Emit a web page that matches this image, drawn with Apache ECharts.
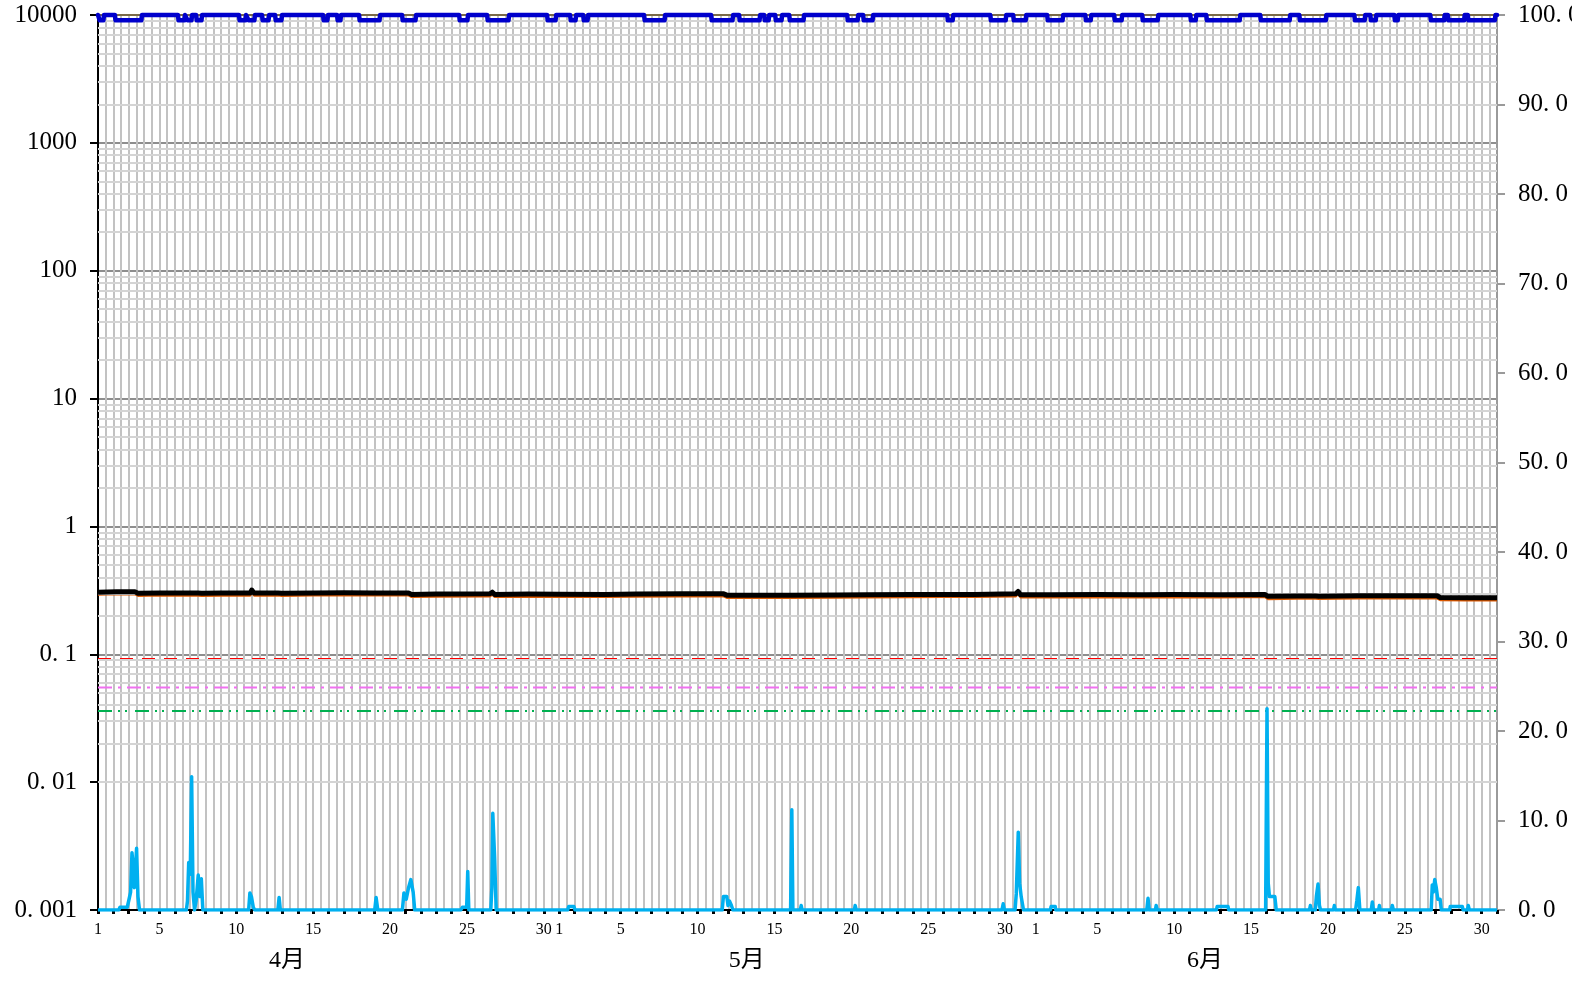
<!DOCTYPE html>
<html><head><meta charset="utf-8">
<script src="https://cdn.jsdelivr.net/npm/echarts@6/dist/echarts.min.js"></script>
<style>html,body{margin:0;padding:0;background:#fff}#c{width:1572px;height:985px}</style>
</head><body><div id="c"></div>
<script>
// ---- tick labels ----
const dayLabels = [1, 5, 10, 15, 20, 25, 30];
const monthNames = ['4月', '5月', '6月'];
const monthLabelPos = [12.3, 42.2, 72.0];
const leftLabels = ['0. 001', '0. 01', '0. 1', '1', '10', '100', '1000', '10000'];
const rightLabels = ['0. 0', '10. 0', '20. 0', '30. 0', '40. 0', '50. 0', '60. 0', '70. 0', '80. 0', '90. 0', '100. 0'];
const totalDays = 91; // 4/1 .. 6/30

// ---- series values: [day since 4/1 00:00, value] ----
const blackLine = [[0,0.306],[1.2,0.309],[2.4,0.308],[2.6,0.300],[4,0.302],[6.5,0.301],[6.6,0.308],[6.75,0.300],[8,0.301],[9.9,0.301],[10.0,0.318],[10.15,0.301],[11.7,0.302],[11.8,0.308],[11.95,0.300],[14,0.302],[16,0.303],[18,0.302],[20.2,0.302],[20.4,0.294],[22,0.296],[25.5,0.297],[25.65,0.306],[25.8,0.294],[28,0.296],[30,0.295],[33,0.294],[35,0.296],[38,0.297],[40.7,0.297],[40.9,0.290],[43,0.289],[45,0.290],[48,0.291],[50,0.292],[53,0.293],[55,0.294],[57,0.294],[59.7,0.297],[59.85,0.310],[60,0.292],[62,0.292],[65,0.293],[68,0.292],[70,0.293],[73,0.292],[75.9,0.294],[76.1,0.284],[78,0.286],[79.2,0.286],[79.3,0.290],[79.4,0.285],[82,0.287],[84,0.287],[87.1,0.287],[87.3,0.278],[89,0.277],[91,0.277]];
const orangeLine = [[0,0.292],[1.2,0.295],[2.4,0.294],[2.6,0.286],[4,0.288],[6.5,0.287],[6.6,0.294],[6.75,0.286],[8,0.287],[9.9,0.287],[10.0,0.304],[10.15,0.287],[11.7,0.288],[11.8,0.294],[11.95,0.286],[14,0.288],[16,0.289],[18,0.288],[20.2,0.288],[20.4,0.280],[22,0.282],[25.5,0.283],[25.65,0.292],[25.8,0.280],[28,0.282],[30,0.281],[33,0.280],[35,0.282],[38,0.283],[40.7,0.283],[40.9,0.276],[43,0.275],[45,0.276],[48,0.277],[50,0.278],[53,0.279],[55,0.280],[57,0.280],[59.7,0.283],[59.85,0.296],[60,0.278],[62,0.278],[65,0.279],[68,0.278],[70,0.279],[73,0.278],[75.9,0.280],[76.1,0.270],[78,0.272],[79.2,0.272],[79.3,0.276],[79.4,0.271],[82,0.273],[84,0.273],[87.1,0.273],[87.3,0.265],[89,0.264],[91,0.264]];
const redLevel = 0.092;
const magentaLevel = 0.055;
const greenLevel = 0.036;
const rainSeries = [[0,0],[1.35,0],[1.43,0.3],[1.9,0.3],[2.02,1.2],[2.12,2.0],[2.21,6.4],[2.28,5.0],[2.36,2.5],[2.51,6.9],[2.6,1.5],[2.7,0],
[5.75,0],[5.82,1.0],[5.9,5.3],[6.0,4.0],[6.09,14.9],[6.18,2.0],[6.28,0],[6.38,1.0],[6.52,3.9],[6.62,1.5],[6.72,3.5],[6.82,0],
[9.8,0],[9.88,1.9],[9.98,1.5],[10.1,0.3],[10.2,0],
[11.7,0],[11.78,1.4],[11.86,0],
[18.0,0],[18.09,1.4],[18.2,0],
[19.8,0],[19.9,1.9],[20.05,1.2],[20.2,2.5],[20.35,3.4],[20.5,2.0],[20.6,0],
[23.6,0],[23.7,0.3],[23.98,0.3],[24.05,4.3],[24.12,0],
[25.55,0],[25.62,2.5],[25.68,10.8],[25.8,5.8],[25.9,0],
[30.55,0],[30.62,0.4],[30.95,0.4],[31.03,0],
[40.6,0],[40.68,1.5],[40.9,1.5],[40.98,0.5],[41.08,1.0],[41.2,0.5],[41.3,0],
[45.05,0],[45.13,11.2],[45.2,0],
[45.68,0],[45.74,0.5],[45.8,0],
[49.2,0],[49.25,0.5],[49.32,0],
[58.8,0],[58.88,0.7],[58.96,0],
[59.65,0],[59.73,1.8],[59.86,8.7],[59.95,3.0],[60.05,1.5],[60.2,0],
[61.95,0],[62.0,0.4],[62.26,0.4],[62.3,0],
[68.22,0],[68.3,1.3],[68.38,0],
[68.78,0],[68.83,0.5],[68.9,0],
[72.75,0],[72.8,0.4],[73.5,0.4],[73.55,0],
[75.95,0],[76.04,22.5],[76.12,3.0],[76.2,1.5],[76.55,1.5],[76.64,0],
[78.8,0],[78.86,0.5],[78.92,0],
[79.18,0],[79.25,1.5],[79.36,2.9],[79.45,0.5],[79.52,0],
[80.36,0],[80.42,0.5],[80.48,0],
[81.8,0],[81.88,1.0],[81.98,2.5],[82.08,0],
[82.82,0],[82.89,0.9],[82.96,0],
[83.3,0],[83.35,0.5],[83.4,0],
[84.12,0],[84.19,0.5],[84.26,0],
[86.72,0],[86.79,2.8],[86.86,2.0],[86.95,3.4],[87.05,2.5],[87.15,1.2],[87.3,1.2],[87.38,0],
[87.92,0],[87.96,0.4],[88.74,0.4],[88.8,0],
[89.08,0],[89.13,0.5],[89.2,0],
[91,0]];
const topLevel = 100;
const dipLevel = 99.4;
const blueDips = [[0.07,0.39],[1.1,2.86],[5.2,5.66],[5.79,6.12],[6.38,6.77],[9.17,9.63],[9.76,10.21],[10.67,11.13],[11.52,11.97],[14.64,14.96],[15.55,15.81],[16.98,18.35],[19.78,20.69],[23.49,24.07],[25.31,26.74],[29.21,29.8],[30.71,31.1],[31.56,31.88],[35.52,36.89],[39.88,41.31],[41.7,43.07],[43.33,43.66],[44.05,44.5],[44.96,45.93],[48.73,49.45],[49.77,50.42],[55.24,55.63],[58.04,59.08],[59.53,60.38],[61.74,62.78],[64.22,64.61],[66.1,66.62],[67.92,68.97],[71.05,71.44],[72.09,74.3],[75.6,77.55],[78.14,79.9],[81.72,82.43],[82.76,83.15],[84.32,84.58],[86.66,87.6],[87.8,88.9],[89.1,90.9]];

// ---- build ----
const blueLine = [[0, topLevel]];
blueDips.forEach(([a, b]) => {
  blueLine.push([a, topLevel], [a + 0.04, dipLevel], [b - 0.04, dipLevel], [b, topLevel]);
});
blueLine.push([totalDays, topLevel]);

const minorVals = [];
for (let e = -3; e < 4; e++) for (let m = 2; m <= 9; m++) minorVals.push({ yAxis: +(m * Math.pow(10, e)).toPrecision(3) });

const base = Date.UTC(2023, 3, 1);
const serif = "'Liberation Serif', 'Noto Sans CJK SC', serif";
const chart = echarts.init(document.getElementById('c'), null, { renderer: 'canvas' });
const flat = (v) => [[0, v], [totalDays, v]];
chart.setOption({
  animation: false,
  backgroundColor: '#fff',
  grid: { left: 98, right: 75, top: 15, bottom: 75, containLabel: false, outerBoundsMode: 'none' },
  xAxis: [
    { type: 'value', min: 0, max: totalDays, interval: 0.5, position: 'bottom',
      axisLine: { show: false }, axisTick: { show: false }, axisLabel: { show: false },
      splitLine: { show: true, lineStyle: { color: '#c2c2c2', width: 2 } } },
    { type: 'value', min: 0, max: totalDays, interval: 1, position: 'bottom',
      axisLine: { show: true, onZero: false, lineStyle: { color: '#000', width: 2 } },
      axisTick: { show: true, length: 4, lineStyle: { color: '#000', width: 3 } },
      axisLabel: { color: '#000', fontFamily: serif, fontSize: 16, margin: 12,
        formatter: (v) => {
          if (v >= totalDays || Math.abs(v - Math.round(v)) > 1e-6) return '';
          const d = new Date(base + Math.round(v) * 864e5).getUTCDate();
          return dayLabels.includes(d) ? String(d) : '';
        } },
      splitLine: { show: false } },
    { type: 'value', min: 0, max: totalDays, position: 'bottom',
      axisLine: { show: false, onZero: false }, axisTick: { show: false }, splitLine: { show: false },
      axisLabel: { customValues: monthLabelPos, color: '#000', fontFamily: serif, fontSize: 24, margin: 39,
        formatter: (v) => { const i = monthLabelPos.findIndex(p => Math.abs(p - v) < 1e-6); return i >= 0 ? monthNames[i] : ''; } } }
  ],
  yAxis: [
    { type: 'log', logBase: 10, min: 0.001, max: 10000, position: 'left',
      axisLine: { show: true, onZero: false, lineStyle: { color: '#000', width: 2 } },
      axisTick: { show: true, length: 8, lineStyle: { color: '#000', width: 2 } },
      axisLabel: { color: '#000', fontFamily: serif, fontSize: 25, margin: 21,
        formatter: (v) => leftLabels[Math.round(Math.log10(v)) + 3] },
      splitLine: { show: true, lineStyle: { color: '#8e8e8e', width: 2 } } },
    { type: 'value', min: 0, max: 100, interval: 10, position: 'right',
      axisLine: { show: true, onZero: false, lineStyle: { color: '#9a9a9a', width: 2 } },
      axisTick: { show: true, length: 8, lineStyle: { color: '#9a9a9a', width: 2 } },
      axisLabel: { color: '#000', fontFamily: serif, fontSize: 25, margin: 21,
        formatter: (v) => rightLabels[Math.round(v / 10)] },
      splitLine: { show: false } }
  ],
  series: [
    { type: 'line', name: 'minorgrid', xAxisIndex: 0, yAxisIndex: 0, data: [], z: 1, silent: true,
      markLine: { silent: true, symbol: ['none', 'none'], label: { show: false }, animation: false,
        lineStyle: { color: '#d4d4d4', width: 2, type: 'solid' }, data: minorVals } },
    { type: 'line', xAxisIndex: 0, yAxisIndex: 0, data: flat(redLevel), showSymbol: false, z: 3,
      lineStyle: { color: '#ff0000', width: 2, type: [13, 9] } },
    { type: 'line', xAxisIndex: 0, yAxisIndex: 0, data: flat(magentaLevel), showSymbol: false, z: 3,
      lineStyle: { color: '#f070f0', width: 2, type: [14, 6, 3, 6] } },
    { type: 'line', xAxisIndex: 0, yAxisIndex: 0, data: flat(greenLevel), showSymbol: false, z: 3,
      lineStyle: { color: '#00b050', width: 2, type: [14, 6, 2, 5, 2, 8] } },
    { type: 'line', xAxisIndex: 0, yAxisIndex: 0, data: orangeLine, showSymbol: false, z: 4,
      lineStyle: { color: '#e05a00', width: 2 } },
    { type: 'line', xAxisIndex: 0, yAxisIndex: 0, data: blackLine, showSymbol: false, z: 5,
      lineStyle: { color: '#000', width: 5, join: 'round' } },
    { type: 'line', xAxisIndex: 0, yAxisIndex: 1, data: rainSeries, showSymbol: false, z: 6,
      lineStyle: { color: '#00b0f0', width: 3.5, join: 'round' } },
    { type: 'line', xAxisIndex: 0, yAxisIndex: 1, data: flat(topLevel), showSymbol: false, z: 6, clip: false,
      lineStyle: { color: '#7a6a48', width: 2 } },
    { type: 'line', xAxisIndex: 0, yAxisIndex: 1, data: blueLine, showSymbol: false, z: 7, clip: false,
      lineStyle: { color: '#0000cc', width: 4.5, join: 'round', cap: 'round' } }
  ]
});
</script></body></html>
